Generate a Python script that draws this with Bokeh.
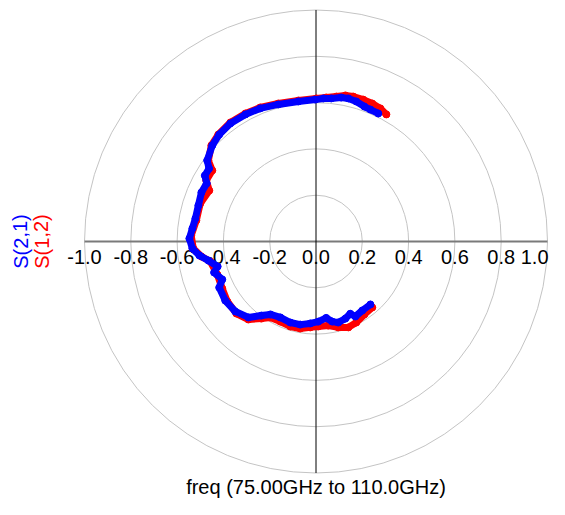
from bokeh.plotting import figure
from bokeh.models import Range1d, Label, ColumnDataSource
from bokeh.embed import file_html
from bokeh.resources import INLINE
from bokeh.core.properties import value

s21_re = [0.269, 0.235, 0.209, 0.174, 0.140, 0.109, 0.066, 0.032, -0.003, -0.076,
          -0.163, -0.241, -0.305, -0.370, -0.418, -0.448, -0.470, -0.462, -0.480, -0.472,
          -0.495, -0.508, -0.521, -0.534, -0.547, -0.534, -0.504, -0.465, -0.425, -0.440,
          -0.405, -0.418, -0.392, -0.349, -0.292, -0.236, -0.197, -0.154, -0.111, -0.068,
          -0.025, 0.010, 0.044, 0.070, 0.096, 0.127, 0.148, 0.170, 0.200, 0.235]
s21_im = [0.553, 0.570, 0.583, 0.605, 0.618, 0.622, 0.618, 0.618, 0.613, 0.605,
          0.592, 0.575, 0.549, 0.510, 0.462, 0.415, 0.350, 0.315, 0.285, 0.251,
          0.212, 0.156, 0.099, 0.056, 0.013, -0.030, -0.060, -0.082, -0.108, -0.134,
          -0.164, -0.199, -0.255, -0.302, -0.328, -0.320, -0.315, -0.328, -0.350, -0.359,
          -0.354, -0.346, -0.330, -0.346, -0.350, -0.333, -0.312, -0.324, -0.298, -0.272]

s12_re = [0.304, 0.278, 0.243, 0.204, 0.161, 0.127, 0.088, 0.044, 0.001, -0.076,
          -0.163, -0.241, -0.305, -0.370, -0.422, -0.452, -0.465, -0.448, -0.474, -0.461,
          -0.500, -0.517, -0.539, -0.530, -0.495, -0.457, -0.426, -0.405, -0.383, -0.344,
          -0.292, -0.236, -0.197, -0.154, -0.111, -0.068, -0.025, 0.010, 0.053, 0.096,
          0.140, 0.174, 0.209, 0.243]
s12_im = [0.549, 0.575, 0.596, 0.613, 0.626, 0.631, 0.626, 0.622, 0.618, 0.609,
          0.596, 0.579, 0.553, 0.514, 0.462, 0.415, 0.350, 0.307, 0.264, 0.220,
          0.164, 0.091, 0.026, -0.030, -0.065, -0.086, -0.143, -0.203, -0.259, -0.311,
          -0.337, -0.333, -0.328, -0.346, -0.367, -0.376, -0.371, -0.367, -0.363, -0.371,
          -0.371, -0.350, -0.315, -0.285]

ring_radii = [0.2, 0.4, 0.6, 0.8, 1.0]
tick_values = [-1.0, -0.8, -0.6, -0.4, -0.2, 0.0, 0.2, 0.4, 0.6, 0.8, 1.0]
tick_labels = ["-1.0", "-0.8", "-0.6", "-0.4", "-0.2", "0.0", "0.2", "0.4", "0.6", "0.8", "1.0"]

x_title = "freq (75.00GHz to 110.0GHz)"
series_names = ["S(2,1)", "S(1,2)"]

FONT = "Liberation Sans"
W, H = 549, 499
R = 231.5
cx, cy = 315.5, 241.0  # centre in canvas px
x0 = -cx / R
x1 = x0 + W / R
y1 = cy / R
y0 = y1 - H / R

p = figure(width=W, height=H, output_backend="svg", toolbar_location=None,
           x_range=Range1d(x0, x1), y_range=Range1d(y0, y1),
           min_border=0, min_border_left=0, min_border_right=0,
           min_border_top=0, min_border_bottom=0)
p.axis.visible = False
p.grid.visible = False
p.outline_line_color = None
p.background_fill_color = "white"
p.border_fill_color = "white"

# rings
p.circle(x=[0] * len(ring_radii), y=[0] * len(ring_radii), radius=ring_radii,
         fill_color=None, line_color="#c4c4c4", line_width=1)

# axes lines
p.segment(x0=[-1.0], y0=[0], x1=[1.0], y1=[0], line_color="#7a7a7a", line_width=2)
p.segment(x0=[0], y0=[-1.0], x1=[0], y1=[1.0], line_color="black", line_width=1)

# tick labels (last one kept inside the canvas)
tsrc = ColumnDataSource(dict(x=tick_values[:-1], y=[0] * (len(tick_values) - 1), t=tick_labels[:-1]))
p.text(x="x", y="y", text="t", source=tsrc, y_offset=15,
       text_align="center", text_baseline="middle",
       text_font=value(FONT), text_font_size="20px", text_color="black")
p.add_layout(Label(x=W - 1, y=0, x_units="screen", y_units="data", text=tick_labels[-1],
                   y_offset=-15, text_align="right", text_baseline="middle",
                   text_font=FONT, text_font_size="20px", text_color="black"))

# traces
p.line(s12_re, s12_im, line_color="red", line_width=7, line_join="round", line_cap="round")
p.scatter(s12_re, s12_im, size=7, color="red")
p.line(s21_re, s21_im, line_color="blue", line_width=7, line_join="round", line_cap="round")
p.scatter(s21_re, s21_im, size=7, color="blue")

# y labels (rotated)
p.add_layout(Label(x=20, y=0, x_units="screen", y_units="data", text=series_names[0],
                   angle=1.5708, text_align="center", text_baseline="middle",
                   text_font=FONT, text_font_size="20px", text_color="blue"))
p.add_layout(Label(x=41, y=0, x_units="screen", y_units="data", text=series_names[1],
                   angle=1.5708, text_align="center", text_baseline="middle",
                   text_font=FONT, text_font_size="20px", text_color="red"))

# x title
p.add_layout(Label(x=0, y=13, x_units="data", y_units="screen", text=x_title,
                   text_align="center", text_baseline="middle",
                   text_font=FONT, text_font_size="20px", text_color="black"))

open("out.html", "w").write(file_html(p, INLINE))
